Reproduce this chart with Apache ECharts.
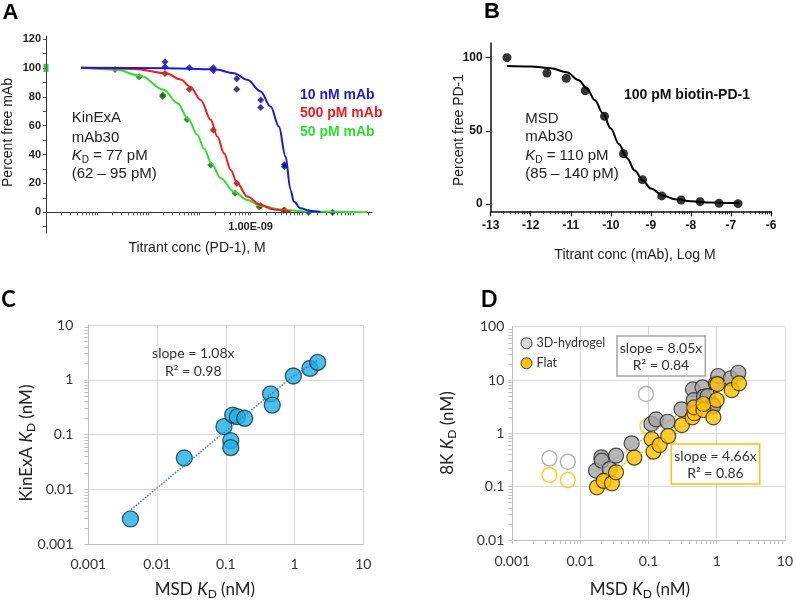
<!DOCTYPE html>
<html><head><meta charset="utf-8">
<script src="https://cdn.jsdelivr.net/npm/echarts@6/dist/echarts.min.js"></script>
<style>html,body{margin:0;padding:0;background:#fff}#c{width:796px;height:601px}</style>
</head><body><div id="c"></div>
<script>
// ---------- Panel A (KinExA), x in log10(M) ----------
const aGreenCurveLogX = [-12.314,-11.632,-11.157,-10.702,-10.429,-10.228,-10.039,-9.910,-9.767,-9.585,-9.325,-9.065,-8.805,-8.351,-7.895,-6.725];
const aGreenCurveY    = [100,98.8,94.5,84.8,75.5,65,53.6,44,34,23.6,14.3,8.5,4.4,1.6,0.5,0];
const aRedCurveLogX   = [-12.314,-11.274,-10.657,-10.365,-10.183,-9.975,-9.780,-9.650,-9.520,-9.390,-9.260,-9.065,-8.805,-8.546,-8.220];
const aRedCurveY      = [100,99.3,96.3,92,87,77.8,64,52.4,40.9,29.3,20,10.9,5,2,0.7];
const aBlueCurveLogX  = [-12.314,-10.624,-9.715,-9.325,-9.065,-8.805,-8.610,-8.448,-8.318,-8.220,-8.155,-8.025,-7.830,-7.635];
const aBlueCurveY     = [100,99.8,99,96.3,91.7,83.6,73.2,59.4,38.6,15.5,7.4,2.8,0.9,0.2];

const aGreenPtLogX = [-11.651,-11.180,-10.719,-10.719,-10.244,-9.781,-9.305,-8.836,-8.362];
const aGreenPtY    = [98.8,93.8,81.3,80.1,64.2,32.8,13.2,3.9,1.2];
const aRedPtLogX   = [-10.674,-10.199,-9.730,-9.272,-8.803,-8.340];
const aRedPtY      = [96.1,85.2,57.0,20.1,4.6,1.6];
const aBluePtLogX  = [-10.674,-10.674,-10.199,-9.730,-9.730,-9.272,-9.272,-8.803,-8.803,-8.340,-8.340,-7.865,-7.396];
const aBluePtY     = [104.2,100.7,100,100,98.2,92.4,85.2,77.8,72.5,33.0,31.6,0,0];

// ---------- Panel B (MSD), x in log10(M) ----------
const bCurveX = [-12.59,-12.0,-11.5,-11.1,-10.8,-10.6,-10.4,-10.2,-10.0,-9.8,-9.6,-9.4,-9.2,-9.0,-8.7,-8.4,-8.0,-7.5,-7.0,-6.8];
const bCurveY = [94.3,94.0,92.8,90.0,84.5,79,71,62,51.5,41,31.5,22.8,16,10.5,5.8,3.3,1.8,1.0,0.7,0.6];
const bPtX = [-12.593,-11.595,-11.113,-10.639,-10.157,-9.683,-9.209,-8.727,-8.245,-7.771,-7.298,-6.824];
const bPtY = [100,89.5,85.9,77.4,59.9,34.4,16.6,5.5,2.7,1.6,0.5,0.2];

// ---------- Panel C (nM) ----------
const cMsd    = [0.0041,0.0249,0.094,0.118,0.118,0.126,0.147,0.188,0.449,0.474,0.96,1.675,2.17];
const cKinExA = [0.0029,0.0375,0.14,0.078,0.058,0.228,0.213,0.199,0.552,0.347,1.175,1.62,2.08];
const cTrendX = [0.0042,0.0138,0.18,0.96,2.21];
const cTrendY = [0.0043,0.0149,0.215,1.17,2.3];

// ---------- Panel D (nM) ----------
const dGrayX = [0.0169,0.0203,0.0205,0.0269,0.0333,0.0564,0.11,0.129,0.19,0.304,0.446,0.46,0.617,0.65,0.738,0.87,0.893,0.968,1.05,1.6,2.07];
const dGrayY = [0.2,0.355,0.307,0.214,0.381,0.65,1.5,1.83,1.65,2.82,6.68,4.2,7.29,4.9,5.0,3.4,3.25,8.66,11.9,10.7,13.7];
const dFlatX = [0.0175,0.0219,0.029,0.0333,0.0617,0.111,0.118,0.145,0.194,0.308,0.44,0.47,0.466,0.638,0.638,0.893,1.0,1.02,1.66,2.12];
const dFlatY = [0.0972,0.128,0.1155,0.186,0.35,0.78,0.453,0.604,0.891,1.43,2.0,2.38,3.07,2.74,3.55,2.0,4.22,8.41,6.49,8.66];
const dGrayOpenX = [0.00351,0.00653,0.0914];
const dGrayOpenY = [0.34,0.294,5.46];
const dFlatOpenX = [0.00351,0.00653,0.0966];
const dFlatOpenY = [0.166,0.133,1.37];
const dGrayTrendX = [0.0169,2.1];
const dGrayTrendY = [0.19,14];
const dFlatTrendX = [0.0175,0.0269,0.203,2.1];
const dFlatTrendY = [0.12,0.178,0.93,8.3];

// ---------- tick labels ----------
const logTickValues = [-3,-2,-1,0,1,2];
const logTickText   = ['0.001','0.01','0.1','1','10','100'];
const aYTicks  = [0,10,20,30,40,50,60,70,80,90,100,110,120];
const aYNegTicks = [-10];
const aYLabels = [0,20,40,60,80,100,120];
const aXLabel = '1.00E-09';
const bYLabels = [0,50,100];

const ARIAL = '"Liberation Sans", Arial, sans-serif';
const CAL = 'Lato, "Open Sans", sans-serif';

function zip(xs, ys, fx) { return xs.map((x, i) => [fx ? fx(x) : x, fx ? fx(ys[i]) : ys[i]]); }
const L = v => Math.log10(v);
function minorTicks(from, to, ks, max) {
  const out = [];
  for (let d = from; d < to; d++) for (const k of ks) { const v = d + Math.log10(k); if (max === undefined || v <= max + 1e-9) out.push(v); }
  return out;
}
const logLabel = v => { const i = logTickValues.indexOf(Math.round(v)); return i >= 0 ? logTickText[i] : ''; };

function txt(x, y, text, o) {
  o = o || {};
  const st = {text, fill: o.color || '#222', fontSize: o.size || 14, fontFamily: o.family || ARIAL,
    fontWeight: o.weight || 'normal', align: o.align || 'center', verticalAlign: o.valign || 'middle'};
  if (o.rich) st.rich = o.rich;
  return {type: 'text', x, y, rotation: o.rot || 0, z: 100, style: st};
}
function kdRich(family, size, color) {
  return {
    n: {fontFamily: family, fontSize: size, fill: color, lineHeight: size + 4},
    k: {fontFamily: family, fontSize: size, fill: color, fontStyle: 'italic', lineHeight: size + 4},
    s: {fontFamily: family, fontSize: Math.round(size * 0.68), fill: color, verticalAlign: 'bottom', lineHeight: size + 4}
  };
}

const chart = echarts.init(document.getElementById('c'), null, {renderer: 'canvas'});

const axisTxtA = {fontFamily: ARIAL, fontWeight: 'bold', fontSize: 11, color: '#222'};
const axisTxtB = {fontFamily: ARIAL, fontWeight: 'bold', fontSize: 12, color: '#111'};
const axisTxtC = {fontFamily: CAL, fontSize: 14, color: '#333'};

const option = {
  animation: false,
  backgroundColor: '#ffffff',
  grid: [
    {left: 46, top: 36.1, width: 326, height: 176.2},
    {left: 46, top: 212.3, width: 326, height: 20.9},
    {left: 490.7, top: 43, width: 280.3, height: 168.3},
    {left: 88.3, top: 325, width: 275, height: 219.3},
    {left: 512.3, top: 326.7, width: 273.7, height: 213.3}
  ],
  xAxis: [
    // 0: A
    {gridIndex: 0, type: 'value', min: -13, max: -6.628, position: 'bottom',
      axisLine: {show: true, onZero: false, lineStyle: {color: '#333', width: 1}},
      axisTick: {show: true, customValues: minorTicks(-13, -6, [1,2,3,4,5,6,7,8,9], -6.628), length: 3, lineStyle: {color: '#555'}},
      axisLabel: Object.assign({customValues: [-9], formatter: () => aXLabel, margin: 9}, axisTxtA),
      splitLine: {show: false}},
    // 1: A lower strip (hidden)
    {gridIndex: 1, type: 'value', min: -13, max: -6.628, show: false},
    // 2: B main
    {gridIndex: 2, type: 'value', min: -13, max: -6, interval: 1, position: 'bottom',
      axisLine: {onZero: false, lineStyle: {color: '#111', width: 1.5}},
      axisTick: {length: 5, lineStyle: {color: '#111', width: 1.2}},
      axisLabel: Object.assign({margin: 8}, axisTxtB), splitLine: {show: false}},
    // 3: B minor
    {gridIndex: 2, type: 'value', min: -13, max: -6, position: 'bottom',
      axisLine: {show: false, onZero: false},
      axisTick: {customValues: minorTicks(-13, -6, [2,3,4,5,6,7,8,9]), length: 3, lineStyle: {color: '#111'}},
      axisLabel: {show: false}, splitLine: {show: false}},
    // 4: C
    {gridIndex: 3, type: 'value', min: -3, max: 1, interval: 1,
      axisLine: {onZero: false, lineStyle: {color: '#bfbfbf'}}, axisTick: {show: false},
      axisLabel: Object.assign({formatter: logLabel, margin: 13}, axisTxtC),
      splitLine: {show: true, lineStyle: {color: '#d9d9d9'}}},
    // 5: D main
    {gridIndex: 4, type: 'value', min: -3, max: 1, interval: 1,
      axisLine: {onZero: false, lineStyle: {color: '#bfbfbf'}}, axisTick: {show: false},
      axisLabel: Object.assign({formatter: logLabel, margin: 14}, axisTxtC),
      splitLine: {show: true, lineStyle: {color: '#d9d9d9'}}},
    // 6: D minor
    {gridIndex: 4, type: 'value', min: -3, max: 1, position: 'bottom',
      axisLine: {show: false, onZero: false},
      axisTick: {customValues: minorTicks(-3, 1, [1,2,3,4,5,6,7,8,9]), length: 4, lineStyle: {color: '#bfbfbf'}},
      axisLabel: {show: false}, splitLine: {show: false}}
  ],
  yAxis: [
    // 0: A
    {gridIndex: 0, type: 'value', min: 0, max: 122,
      axisLine: {show: true, onZero: false, lineStyle: {color: '#333'}},
      axisTick: {show: true, customValues: aYTicks, length: 3, lineStyle: {color: '#555'}},
      axisLabel: Object.assign({customValues: aYLabels, margin: 5}, axisTxtA), splitLine: {show: false}},
    // 1: A lower strip
    {gridIndex: 1, type: 'value', min: -14.5, max: 0,
      axisLine: {show: true, onZero: false, lineStyle: {color: '#333'}},
      axisTick: {show: true, customValues: aYNegTicks, length: 3, lineStyle: {color: '#555'}},
      axisLabel: {show: false}, splitLine: {show: false}},
    // 2: B
    {gridIndex: 2, type: 'value', min: -5, max: 110,
      axisLine: {show: true, onZero: false, lineStyle: {color: '#111', width: 1.5}},
      axisTick: {show: true, customValues: bYLabels, length: 5, lineStyle: {color: '#111', width: 1.2}},
      axisLabel: Object.assign({customValues: bYLabels, margin: 8}, axisTxtB), splitLine: {show: false}},
    // 3: C main
    {gridIndex: 3, type: 'value', min: -3, max: 1, interval: 1,
      axisLine: {show: true, onZero: false, lineStyle: {color: '#bfbfbf'}}, axisTick: {show: false},
      axisLabel: Object.assign({formatter: logLabel, margin: 15}, axisTxtC),
      splitLine: {show: true, lineStyle: {color: '#d9d9d9'}}},
    // 4: C minor
    {gridIndex: 3, type: 'value', min: -3, max: 1, position: 'left',
      axisLine: {show: false, onZero: false},
      axisTick: {customValues: minorTicks(-3, 1, [1,2,3,4,5,6,7,8,9]), length: 4, lineStyle: {color: '#bfbfbf'}},
      axisLabel: {show: false}, splitLine: {show: false}},
    // 5: D main
    {gridIndex: 4, type: 'value', min: -2, max: 2, interval: 1,
      axisLine: {show: true, onZero: false, lineStyle: {color: '#bfbfbf'}}, axisTick: {show: false},
      axisLabel: Object.assign({formatter: logLabel, margin: 8}, axisTxtC),
      splitLine: {show: true, lineStyle: {color: '#d9d9d9'}}},
    // 6: D minor
    {gridIndex: 4, type: 'value', min: -2, max: 2, position: 'left',
      axisLine: {show: false, onZero: false},
      axisTick: {customValues: minorTicks(-2, 2, [1,2,3,4,5,6,7,8,9]), length: 4, lineStyle: {color: '#bfbfbf'}},
      axisLabel: {show: false}, splitLine: {show: false}}
  ],
  series: [
    // A curves
    {type: 'line', xAxisIndex: 0, yAxisIndex: 0, data: zip(aGreenCurveLogX, aGreenCurveY), symbol: 'none', smooth: 0.35, smoothMonotone: 'x', lineStyle: {color: '#2ee02e', width: 2}, silent: true},
    {type: 'line', xAxisIndex: 0, yAxisIndex: 0, data: zip(aRedCurveLogX, aRedCurveY), symbol: 'none', smooth: 0.35, smoothMonotone: 'x', lineStyle: {color: '#ee1c1c', width: 2}, silent: true},
    {type: 'line', xAxisIndex: 0, yAxisIndex: 0, data: zip(aBlueCurveLogX, aBlueCurveY), symbol: 'none', smooth: 0.35, smoothMonotone: 'x', lineStyle: {color: '#1a1ad6', width: 2}, silent: true},
    // A points
    {type: 'scatter', xAxisIndex: 0, yAxisIndex: 0, data: zip(aGreenPtLogX, aGreenPtY), symbol: 'diamond', symbolSize: 7, clip: false, itemStyle: {color: '#0b6b0b'}, silent: true},
    {type: 'scatter', xAxisIndex: 0, yAxisIndex: 0, data: zip(aRedPtLogX, aRedPtY), symbol: 'diamond', symbolSize: 7, clip: false, itemStyle: {color: '#8b0a0a'}, silent: true},
    {type: 'scatter', xAxisIndex: 0, yAxisIndex: 0, data: zip(aBluePtLogX, aBluePtY), symbol: 'diamond', symbolSize: 7, clip: false, itemStyle: {color: '#0a0a7a'}, silent: true},
    {type: 'scatter', xAxisIndex: 0, yAxisIndex: 0, data: [[-13, 100]], symbol: 'rect', symbolSize: [5, 8], clip: false, itemStyle: {color: '#2a9d2a'}, silent: true},
    // B
    {type: 'line', xAxisIndex: 2, yAxisIndex: 2, data: zip(bCurveX, bCurveY), symbol: 'none', smooth: 0.35, smoothMonotone: 'x', lineStyle: {color: '#000', width: 2}, silent: true},
    {type: 'scatter', xAxisIndex: 2, yAxisIndex: 2, data: zip(bPtX, bPtY), symbol: 'circle', symbolSize: 9, itemStyle: {color: '#000'}, silent: true},
    // C
    {type: 'line', xAxisIndex: 4, yAxisIndex: 3, data: zip(cTrendX, cTrendY, L), symbol: 'none', lineStyle: {color: '#4472c4', width: 1.5, type: 'dotted'}, silent: true},
    {type: 'scatter', xAxisIndex: 4, yAxisIndex: 3, data: zip(cMsd, cKinExA, L), symbol: 'circle', symbolSize: 16, itemStyle: {color: '#1cb0e6', borderColor: '#1b2f3c', borderWidth: 1.3}, silent: true},
    // D
    {type: 'line', xAxisIndex: 5, yAxisIndex: 5, data: zip(dGrayTrendX, dGrayTrendY, L), symbol: 'none', lineStyle: {color: '#a5a5a5', width: 1.5, type: 'dotted'}, silent: true},
    {type: 'line', xAxisIndex: 5, yAxisIndex: 5, data: zip(dFlatTrendX, dFlatTrendY, L), symbol: 'none', lineStyle: {color: '#ffc000', width: 1.5, type: 'dotted'}, silent: true},
    {type: 'scatter', xAxisIndex: 5, yAxisIndex: 5, data: zip(dGrayOpenX, dGrayOpenY, L), symbol: 'circle', symbolSize: 15, itemStyle: {color: 'rgba(255,255,255,0)', borderColor: '#a5a5a5', borderWidth: 1.5}, silent: true},
    {type: 'scatter', xAxisIndex: 5, yAxisIndex: 5, data: zip(dFlatOpenX, dFlatOpenY, L), symbol: 'circle', symbolSize: 15, itemStyle: {color: 'rgba(255,255,255,0)', borderColor: '#ffc000', borderWidth: 1.5}, silent: true},
    {type: 'scatter', xAxisIndex: 5, yAxisIndex: 5, data: zip(dGrayX, dGrayY, L), symbol: 'circle', symbolSize: 15, itemStyle: {color: '#a5a5a5', borderColor: '#262626', borderWidth: 1.2}, silent: true},
    {type: 'scatter', xAxisIndex: 5, yAxisIndex: 5, data: zip(dFlatX, dFlatY, L), symbol: 'circle', symbolSize: 15, itemStyle: {color: '#ffc000', borderColor: '#2a2000', borderWidth: 1.2}, silent: true}
  ],
  graphic: [
    // panel letters
    txt(10.5, 12.5, 'A', {size: 22, weight: 'bold', color: '#000'}),
    txt(492, 11.5, 'B', {size: 22, weight: 'bold', color: '#000'}),
    txt(8.5, 300, 'C', {size: 22, weight: 'bold', color: '#000', family: CAL}),
    txt(489, 300, 'D', {size: 22, weight: 'bold', color: '#000', family: CAL}),
    // A texts
    txt(8, 132.5, 'Percent free mAb', {size: 14, rot: Math.PI / 2}),
    txt(197, 248, 'Titrant conc (PD-1), M', {size: 14}),
    txt(71.7, 118.3, 'KinExA', {size: 15, align: 'left'}),
    txt(71.7, 137.5, 'mAb30', {size: 15, align: 'left'}),
    txt(71.7, 156, '{k|K}{s|D}{n| = 77 pM}', {size: 15, align: 'left', rich: kdRich(ARIAL, 15, '#222')}),
    txt(71.7, 174.3, '(62 \u2013 95 pM)', {size: 15, align: 'left'}),
    txt(300, 95, '10 nM mAb', {size: 14, weight: 'bold', align: 'left', color: '#1a1ad6'}),
    txt(300, 113.3, '500 pM mAb', {size: 14, weight: 'bold', align: 'left', color: '#ee1c1c'}),
    txt(300, 131.7, '50 pM mAb', {size: 14, weight: 'bold', align: 'left', color: '#2ee02e'}),
    // B texts
    txt(459, 130, 'Percent free PD-1', {size: 14, rot: Math.PI / 2}),
    txt(635, 255, 'Titrant conc (mAb), Log M', {size: 14}),
    txt(687, 95, '100 pM biotin-PD-1', {size: 14, weight: 'bold', color: '#111'}),
    txt(525.3, 119, 'MSD', {size: 15, align: 'left'}),
    txt(525.3, 137, 'mAb30', {size: 15, align: 'left'}),
    txt(525.3, 155.5, '{k|K}{s|D}{n| = 110 pM}', {size: 15, align: 'left', rich: kdRich(ARIAL, 15, '#222')}),
    txt(525.3, 174, '(85 \u2013 140 pM)', {size: 15, align: 'left'}),
    // C texts
    txt(27, 443, '{n|KinExA }{k|K}{s|D}{n| (nM)}', {size: 17, family: CAL, rot: Math.PI / 2, rich: kdRich(CAL, 17, '#222')}),
    txt(205, 590, '{n|MSD }{k|K}{s|D}{n| (nM)}', {size: 17, family: CAL, rich: kdRich(CAL, 17, '#222')}),
    txt(193.3, 353.3, 'slope = 1.08x', {size: 14, family: CAL, color: '#333'}),
    txt(193.3, 371, 'R\u00B2 = 0.98', {size: 14, family: CAL, color: '#333'}),
    // D texts
    txt(448, 433, '{n|8K }{k|K}{s|D}{n| (nM)}', {size: 17, family: CAL, rot: Math.PI / 2, rich: kdRich(CAL, 17, '#222')}),
    txt(640, 590, '{n|MSD }{k|K}{s|D}{n| (nM)}', {size: 17, family: CAL, rich: kdRich(CAL, 17, '#222')}),
    {type: 'circle', z: 100, shape: {cx: 526.5, cy: 343.3, r: 5.5}, style: {fill: '#d9d9d9', stroke: '#404040', lineWidth: 1}},
    {type: 'circle', z: 100, shape: {cx: 526.5, cy: 363.3, r: 5.5}, style: {fill: '#ffc000', stroke: '#404040', lineWidth: 1}},
    txt(536.5, 343.3, '3D-hydrogel', {size: 12.5, family: CAL, align: 'left', color: '#333'}),
    txt(536.5, 363.3, 'Flat', {size: 12.5, family: CAL, align: 'left', color: '#333'}),
    {type: 'rect', z: 99, shape: {x: 617, y: 336, width: 88.3, height: 40}, style: {fill: '#fff', stroke: '#a5a5a5', lineWidth: 1.5}},
    txt(661, 348.3, 'slope = 8.05x', {size: 14, family: CAL, color: '#333'}),
    txt(661, 365.5, 'R\u00B2 = 0.84', {size: 14, family: CAL, color: '#333'}),
    {type: 'rect', z: 99, shape: {x: 671.3, y: 444, width: 88.4, height: 40}, style: {fill: '#fff', stroke: '#ffc000', lineWidth: 1.5}},
    txt(715.5, 456, 'slope = 4.66x', {size: 14, family: CAL, color: '#333'}),
    txt(715.5, 473.5, 'R\u00B2 = 0.86', {size: 14, family: CAL, color: '#333'})
  ]
};
chart.setOption(option);
</script>
</body></html>
